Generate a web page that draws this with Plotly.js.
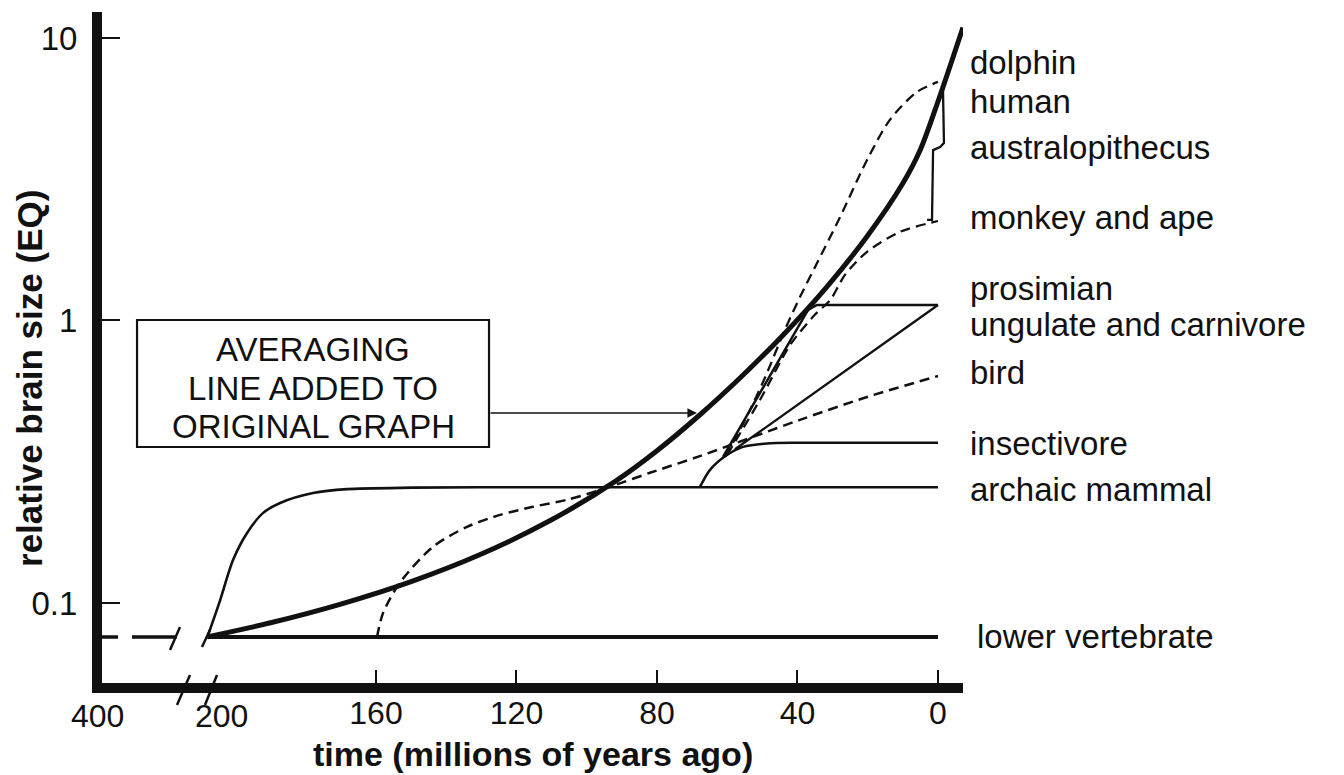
<!DOCTYPE html>
<html>
<head>
<meta charset="utf-8">
<script src="https://cdn.plot.ly/plotly-3.0.1.min.js"></script>
<style>
  html, body { margin: 0; padding: 0; background: #ffffff; }
  #chart { width: 1344px; height: 775px; }
</style>
</head>
<body>
<div id="chart"></div>
<script>
// Relative brain size (encephalization quotient) over time, millions of years ago.
const lowerVertebrateT = [208, 0];
const lowerVertebrateEQ = [0.0758, 0.0758];
const lowerVertebrateEarlyT = [238, 216.7];
const lowerVertebrateEarlyEQ = [0.0758, 0.0758];

const archaicT  = [208, 204.4, 200.7, 196.7, 192.2, 187.3, 177.9, 168.3, 149.5, 130.4, 0];
const archaicEQ = [0.0758, 0.102, 0.142, 0.177, 0.208, 0.226, 0.245, 0.253, 0.256, 0.257, 0.257];

const birdT  = [159.7, 158.0, 153.2, 143.8, 134.1, 124.7, 115.3, 105.6, 96.2, 92.5, 82.0, 67.8, 39.3, 20.2, 0];
const birdEQ = [0.0758, 0.0921, 0.118, 0.158, 0.186, 0.205, 0.219, 0.232, 0.251, 0.260, 0.289, 0.331, 0.445, 0.536, 0.636];

const insectivoreT  = [67.8, 64.9, 60.1, 55.5, 48.7, 39.3, 0];
const insectivoreEQ = [0.257, 0.296, 0.334, 0.357, 0.367, 0.369, 0.369];

const prosimianT  = [61.2, 37.0, 34.5, 0];
const prosimianEQ = [0.329, 1.09, 1.135, 1.135];

const ungulateT  = [57.8, 0];
const ungulateEQ = [0.35, 1.135];

const monkeyT  = [60.1, 50.7, 42.1, 35.0, 30.7, 26.5, 20.2, 10.8, 0];
const monkeyEQ = [0.334, 0.523, 0.819, 1.05, 1.18, 1.45, 1.75, 2.06, 2.25];

const dolphinT  = [60.6, 54.9, 49.3, 43.6, 39.3, 34.4, 27.9, 20.2, 13.7, 6.0, 0];
const dolphinEQ = [0.329, 0.445, 0.626, 0.926, 1.21, 1.60, 2.32, 3.70, 5.13, 6.44, 6.99];

// hominid brace: human at the top, australopithecus at the notch, down to monkey and ape
const hominidT  = [-1.4, -1.7, -0.6, 1.4, 1.7, 3.1];
const hominidEQ = [6.82, 4.25, 4.11, 4.01, 2.27, 2.27];

const averagingT  = [208, 190, 170, 150, 130, 110, 92, 80, 68, 56, 44, 32, 20, 10, 5, 0, -7.1];
const averagingEQ = [0.0759, 0.0851, 0.0991, 0.119, 0.149, 0.197, 0.269, 0.346, 0.461, 0.632, 0.891, 1.30, 2.00, 3.06, 4.03, 5.96, 10.9];

const groupNames = ['dolphin', 'human', 'australopithecus', 'monkey and ape', 'prosimian',
  'ungulate and carnivore', 'bird', 'insectivore', 'archaic mammal', 'lower vertebrate'];
const groupLabelEQ = [8.22, 5.98, 4.11, 2.31, 1.30, 0.964, 0.657, 0.368, 0.253, 0.0764];

const xTickVals = [0, 40, 80, 120, 160];
const yTickVals = [0.1, 1, 10];
const yTickText = ['0.1', '1', '10'];

const FONT = 'Liberation Sans, Arial, Helvetica, sans-serif';
const INK = '#111111';

function line(x, y, width, dash, shape) {
  return {
    type: 'scatter', mode: 'lines', x: x, y: y, hoverinfo: 'skip',
    line: { color: INK, width: width, dash: dash || 'solid', shape: shape || 'spline', smoothing: 0.8 }
  };
}

const traces = [
  line(lowerVertebrateEarlyT, lowerVertebrateEarlyEQ, 3.5, '16px,14px,45px,400px', 'linear'),
  line(lowerVertebrateT, lowerVertebrateEQ, 4, 'solid', 'linear'),
  line(archaicT, archaicEQ, 2.6),
  line(birdT, birdEQ, 2.5, '10px,6px'),
  line(insectivoreT, insectivoreEQ, 2.5),
  line(prosimianT, prosimianEQ, 2.5, 'solid', 'linear'),
  line(ungulateT, ungulateEQ, 2.3, 'solid', 'linear'),
  line(monkeyT, monkeyEQ, 2.3, '10px,6px'),
  line(dolphinT, dolphinEQ, 2.3, '10px,6px'),
  line(hominidT, hominidEQ, 2.3, 'solid', 'linear'),
  line(averagingT, averagingEQ, 5)
];

const annotations = groupNames.map((name, i) => ({
  text: name, xref: 'paper', yref: 'y',
  x: name === 'lower vertebrate' ? 1.014 : 1.0058,
  y: Math.log10(groupLabelEQ[i]),
  xanchor: 'left', yanchor: 'middle', showarrow: false,
  font: { family: FONT, size: 33, color: INK }
}));

// boxed note with an arrow pointing at the averaging curve
['AVERAGING', 'LINE ADDED TO', 'ORIGINAL GRAPH'].forEach((t, i) => {
  annotations.push({
    text: t, xref: 'paper', yref: 'paper', x: 0.2451, y: [0.4963, 0.4396, 0.3830][i],
    xanchor: 'center', yanchor: 'middle', showarrow: false,
    font: { family: FONT, size: 33, color: INK }
  });
});
annotations.push({
  text: '', xref: 'x', yref: 'y', x: 68.6, y: Math.log10(0.4707),
  axref: 'pixel', ayref: 'pixel', ax: -208, ay: 0,
  showarrow: true, arrowhead: 2, arrowsize: 1.2, arrowwidth: 1.6, arrowcolor: INK
});

// broken-axis tick labels and the axis titles
annotations.push({
  text: '400', xref: 'paper', yref: 'paper', x: -0.0058, y: -0.0492,
  xanchor: 'center', yanchor: 'middle', showarrow: false,
  font: { family: FONT, size: 32, color: INK }
});
annotations.push({
  text: '200', xref: 'paper', yref: 'paper', x: 0.139, y: -0.0492,
  xanchor: 'center', yanchor: 'middle', showarrow: false,
  font: { family: FONT, size: 32, color: INK }
});
annotations.push({
  text: '<b>time (millions of years ago)</b>', xref: 'paper', yref: 'paper',
  x: 0.5, y: -0.1058,
  xanchor: 'center', yanchor: 'middle', showarrow: false,
  font: { family: FONT, size: 34, color: INK }
});
annotations.push({
  text: '<b>relative brain size (EQ)</b>', xref: 'paper', yref: 'paper',
  x: -0.0836, y: 0.4531, textangle: -90,
  xanchor: 'center', yanchor: 'middle', showarrow: false,
  font: { family: FONT, size: 35, color: INK }
});

const slash = (x0, y0, x1, y1) => ({
  type: 'line', xref: 'paper', yref: 'paper', x0: x0, y0: y0, x1: x1, y1: y1,
  line: { color: INK, width: 2.5 }, layer: 'above'
});

const shapes = [
  { type: 'rect', xref: 'paper', yref: 'paper', x0: 0.0407, x1: 0.4495, y0: 0.3517, y1: 0.5410,
    line: { color: INK, width: 2.2 }, fillcolor: 'rgba(0,0,0,0)' },
  // heavy time axis rule
  { type: 'line', xref: 'paper', yref: 'paper', x0: -0.0116, x1: 1.0, y0: -0.00745, y1: -0.00745,
    line: { color: INK, width: 10 }, layer: 'above' },
  slash(0.0790, 0.0492, 0.0906, 0.0835),
  slash(0.1161, 0.0537, 0.1254, 0.0790),
  slash(0.0871, -0.0328, 0.1022, 0.0119),
  slash(0.1196, -0.0328, 0.1336, 0.0119)
];

const layout = {
  width: 1344, height: 775,
  margin: { l: 102, r: 381, t: 12, b: 92 },
  paper_bgcolor: '#ffffff', plot_bgcolor: '#ffffff',
  showlegend: false,
  font: { family: FONT, color: INK },
  xaxis: {
    range: [238.0, -7.12], autorange: false,
    tickvals: xTickVals, ticktext: xTickVals.map(String),
    ticks: 'inside', ticklen: 13, tickwidth: 2, tickcolor: INK,
    ticklabelstandoff: 8,
    showline: false,
    showgrid: false, zeroline: false,
    tickfont: { family: FONT, size: 32, color: INK }
  },
  yaxis: {
    type: 'log', range: [-1.2832, 1.092], autorange: false,
    tickvals: yTickVals, ticktext: yTickText,
    ticks: 'inside', ticklen: 18, tickwidth: 2, tickcolor: INK,
    ticklabelstandoff: 8,
    showline: true, linewidth: 10, linecolor: INK,
    showgrid: false, zeroline: false,
    tickfont: { family: FONT, size: 33, color: INK }
  },
  annotations: annotations,
  shapes: shapes
};

Plotly.newPlot('chart', traces, layout, { staticPlot: true, displayModeBar: false });
</script>
</body>
</html>
